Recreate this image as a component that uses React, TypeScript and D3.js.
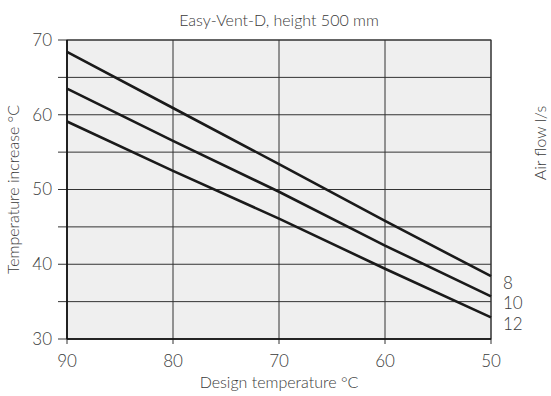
import { useRef, useEffect } from "react";
import * as d3 from "d3";

const designTemps = [90, 80, 70, 60, 50];
const airFlows = ["8", "10", "12"];
const flow8 = [68.4, 60.9, 53.4, 45.8, 38.4];
const flow10 = [63.5, 56.5, 49.7, 42.5, 35.7];
const flow12 = [59.1, 52.5, 46.1, 39.4, 32.9];
const xTicks = [90, 80, 70, 60, 50];
const yTicks = [30, 40, 50, 60, 70];
const yGrid = [30, 35, 40, 45, 50, 55, 60, 65, 70];

export default function App() {
  const svgRef = useRef<SVGSVGElement>(null);

  useEffect(() => {
    const svg = svgRef.current;
    if (!svg) return;

    const width = 551;
    const height = 396;
    const margin = { top: 40, right: 60, bottom: 57, left: 67 };
    const innerW = width - margin.left - margin.right;
    const innerH = height - margin.top - margin.bottom;
    const font = "Lato, 'Open Sans', sans-serif";
    const textColor = "#3a3a3a";

    const x = d3.scaleLinear().domain([90, 50]).range([0, innerW]);
    const y = d3.scaleLinear().domain([30, 70]).range([innerH, 0]);

    const sel = d3.select(svg);
    sel.selectAll("*").remove();
    sel.attr("width", width).attr("height", height);

    const label = (s: d3.Selection<SVGTextElement, any, any, any>, size: number) =>
      s.attr("font-family", font)
        .attr("font-weight", 300)
        .attr("font-size", `${size}px`)
        .attr("fill", textColor);

    sel.append("text")
      .attr("x", margin.left + innerW / 2)
      .attr("y", 26)
      .attr("text-anchor", "middle")
      .call((s) => label(s, 16))
      .text("Easy-Vent-D, height 500 mm");

    const g = sel.append("g").attr("transform", `translate(${margin.left},${margin.top})`);

    g.append("rect")
      .attr("width", innerW)
      .attr("height", innerH)
      .attr("fill", "#efefef");

    // Horizontal grid, extended left as ticks
    g.selectAll("line.hgrid")
      .data(yGrid)
      .join("line")
      .attr("class", "hgrid")
      .attr("x1", -9)
      .attr("x2", innerW)
      .attr("y1", (d) => y(d))
      .attr("y2", (d) => y(d))
      .attr("stroke", "#333")
      .attr("stroke-width", 1);

    // Vertical grid, extended down as ticks
    g.selectAll("line.vgrid")
      .data(xTicks)
      .join("line")
      .attr("class", "vgrid")
      .attr("x1", (d) => x(d))
      .attr("x2", (d) => x(d))
      .attr("y1", 0)
      .attr("y2", innerH + 5)
      .attr("stroke", "#333")
      .attr("stroke-width", 1);

    // Frame
    g.append("rect")
      .attr("width", innerW)
      .attr("height", innerH)
      .attr("fill", "none")
      .attr("stroke", "#333")
      .attr("stroke-width", 1);
    g.append("line")
      .attr("x1", 0).attr("x2", 0).attr("y1", 0).attr("y2", innerH)
      .attr("stroke", "#111").attr("stroke-width", 1.6);
    g.append("line")
      .attr("x1", 0).attr("x2", innerW).attr("y1", innerH).attr("y2", innerH)
      .attr("stroke", "#111").attr("stroke-width", 1.6);

    // Tick labels
    g.selectAll("text.ylab")
      .data(yTicks)
      .join("text")
      .attr("class", "ylab")
      .attr("x", -15)
      .attr("y", (d) => y(d))
      .attr("dy", "0.35em")
      .attr("text-anchor", "end")
      .call((s) => label(s as any, 17))
      .text((d) => d);

    g.selectAll("text.xlab")
      .data(xTicks)
      .join("text")
      .attr("class", "xlab")
      .attr("x", (d) => x(d))
      .attr("y", innerH + 22)
      .attr("dy", "0.35em")
      .attr("text-anchor", "middle")
      .call((s) => label(s as any, 17))
      .text((d) => d);

    // Axis titles
    sel.append("text")
      .attr("x", margin.left + innerW / 2)
      .attr("y", 388)
      .attr("text-anchor", "middle")
      .call((s) => label(s, 16))
      .text("Design temperature °C");

    sel.append("text")
      .attr("transform", `translate(19,${margin.top + innerH / 2}) rotate(-90)`)
      .attr("text-anchor", "middle")
      .call((s) => label(s, 16))
      .text("Temperature increase °C");

    sel.append("text")
      .attr("transform", `translate(546,${margin.top + 103}) rotate(-90)`)
      .attr("text-anchor", "middle")
      .call((s) => label(s, 16))
      .text("Air flow l/s");

    // Lines
    const series = [flow8, flow10, flow12];
    const line = d3
      .line<number>()
      .x((_, i) => x(designTemps[i]))
      .y((d) => y(d));

    g.selectAll("path.flow")
      .data(series)
      .join("path")
      .attr("class", "flow")
      .attr("fill", "none")
      .attr("stroke", "#1a1a1a")
      .attr("stroke-width", 2.6)
      .attr("d", (d) => line(d));

    g.selectAll("text.flowlab")
      .data(series)
      .join("text")
      .attr("class", "flowlab")
      .attr("x", innerW + 12)
      .attr("y", (d) => y(d[d.length - 1]) + 7)
      .attr("dy", "0.35em")
      .call((s) => label(s as any, 17))
      .text((_, i) => airFlows[i]);
  }, []);

  return (
    <svg
      ref={svgRef}
      style={{ display: "block", position: "absolute", left: 0, top: 0 }}
    />
  );
}
